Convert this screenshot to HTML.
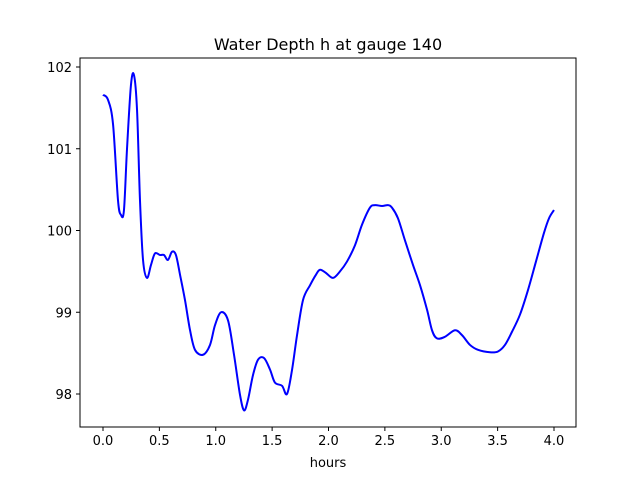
<!DOCTYPE html>
<html><head><meta charset="utf-8"><style>
body{margin:0;background:#fff}
svg{display:block;font-family:"DejaVu Sans","Liberation Sans",sans-serif}
</style></head><body>
<svg id="chart" width="640" height="480">
<rect width="640" height="480" fill="#fff"/>
<text x="328" y="50" text-anchor="middle" font-size="16">Water Depth h at gauge 140</text>
<g id="ticks"></g>
<path id="line" fill="none" stroke="#0000ff" stroke-width="2"/>
<rect x="80" y="58" width="496" height="369" fill="none" stroke="#000" stroke-width="1"/>
<text x="328" y="467" text-anchor="middle" font-size="13">hours</text>
</svg>
<script>
const hours=[0,.044,.089,.133,.16,.186,.213,.248,.275,.302,.328,.355,.39,.426,.461,.506,.541,.576,.612,.647,.683,.727,.772,.816,.887,.949,.993,1.047,1.109,1.162,1.215,1.251,1.286,1.33,1.375,1.428,1.481,1.525,1.588,1.632,1.676,1.721,1.774,1.836,1.889,1.925,1.978,2.04,2.102,2.164,2.235,2.297,2.368,2.412,2.475,2.528,2.563,2.616,2.678,2.749,2.812,2.874,2.918,2.962,3.033,3.122,3.184,3.255,3.326,3.432,3.503,3.565,3.627,3.698,3.769,3.84,3.911,3.956,4.0];
const depth=[101.66,101.6,101.3,100.37,100.19,100.25,101.0,101.78,101.9,101.47,100.37,99.64,99.42,99.58,99.72,99.7,99.7,99.64,99.74,99.7,99.46,99.15,98.78,98.54,98.48,98.6,98.84,99.0,98.9,98.48,97.99,97.8,97.93,98.23,98.42,98.44,98.3,98.14,98.1,98.0,98.29,98.72,99.15,99.33,99.46,99.52,99.48,99.42,99.5,99.62,99.82,100.07,100.28,100.31,100.3,100.31,100.28,100.15,99.88,99.58,99.33,99.03,98.78,98.68,98.7,98.78,98.72,98.6,98.54,98.51,98.52,98.6,98.76,98.97,99.27,99.62,99.97,100.15,100.25];
const xTicks=[0,0.5,1,1.5,2,2.5,3,3.5,4];
const xTickLabels=["0.0","0.5","1.0","1.5","2.0","2.5","3.0","3.5","4.0"];
const yTicks=[98,99,100,101,102];
const xs=v=>103+v*112.75, ys=v=>67+(102-v)*81.75;
const NS="http://www.w3.org/2000/svg";
const g=document.getElementById('ticks');
xTicks.forEach((t,i)=>{
 const l=document.createElementNS(NS,'line');
 
 
 l.setAttribute('x1',xs(t));l.setAttribute('x2',xs(t));l.setAttribute('y1',427);l.setAttribute('y2',431);l.setAttribute('stroke','#000');g.appendChild(l);
 const tx=document.createElementNS(NS,'text');
 
 
 tx.setAttribute('x',xs(t));tx.setAttribute('y',445);tx.setAttribute('text-anchor','middle');tx.setAttribute('font-size','13');tx.textContent=xTickLabels[i];g.appendChild(tx);
});
yTicks.forEach(t=>{
 const l=document.createElementNS(NS,'line');
 
 
 l.setAttribute('x1',76);l.setAttribute('x2',80);l.setAttribute('y1',ys(t));l.setAttribute('y2',ys(t));l.setAttribute('stroke','#000');g.appendChild(l);
 const tx=document.createElementNS(NS,'text');
 
 
 tx.setAttribute('x',72);tx.setAttribute('y',ys(t)+5);tx.setAttribute('text-anchor','end');tx.setAttribute('font-size','13');tx.textContent=t;g.appendChild(tx);
});
const P=hours.map((h,i)=>[xs(h),ys(depth[i])]);
let d='M'+P[0][0]+','+P[0][1];
for(let i=0;i<P.length-1;i++){
 const p0=P[Math.max(0,i-1)],p1=P[i],p2=P[i+1],p3=P[Math.min(P.length-1,i+2)];
 const c1=[p1[0]+(p2[0]-p0[0])/6,p1[1]+(p2[1]-p0[1])/6];
 const c2=[p2[0]-(p3[0]-p1[0])/6,p2[1]-(p3[1]-p1[1])/6];
 d+=` C${c1[0]},${c1[1]} ${c2[0]},${c2[1]} ${p2[0]},${p2[1]}`;
}
document.getElementById('line').setAttribute('d',d);
</script>
</body></html>
